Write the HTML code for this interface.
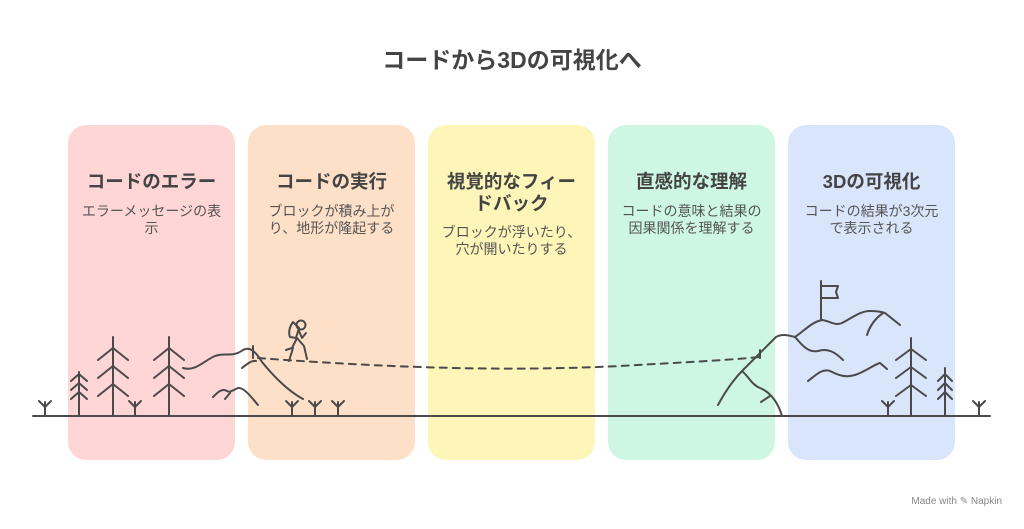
<!DOCTYPE html>
<html><head><meta charset="utf-8"><style>
body{margin:0;width:1024px;height:529px;background:#fff;position:relative;overflow:hidden;font-family:"Liberation Sans","Noto Sans CJK JP",sans-serif;}
.card{position:absolute;top:125px;width:167px;height:335px;border-radius:18px;}
.t{position:absolute;width:167px;text-align:center;font-weight:bold;font-size:18.5px;color:#444;line-height:22px;}
.d{position:absolute;width:167px;text-align:center;font-size:14px;color:#555;line-height:17px;}
h1{position:absolute;top:45px;left:0;width:1024px;text-align:center;margin:0;font-size:23px;color:#444;font-weight:bold;line-height:30px;}
svg{position:absolute;left:0;top:0;}
</style></head><body>
<h1>コードから3Dの可視化へ</h1>
<div class="card" style="left:68px;background:#fed6d6"></div>
<div class="card" style="left:248px;background:#fee0c8"></div>
<div class="card" style="left:428px;background:#fef5b9"></div>
<div class="card" style="left:608px;background:#cdf7e2"></div>
<div class="card" style="left:788px;background:#d9e5fb"></div>

<div class="t" style="left:68px;top:171px">コードのエラー</div>
<div class="d" style="left:68px;top:203px">エラーメッセージの表<br>示</div>
<div class="t" style="left:248px;top:171px">コードの実行</div>
<div class="d" style="left:248px;top:203px">ブロックが積み上が<br>り、地形が隆起する</div>
<div class="t" style="left:428px;top:171px">視覚的なフィー<br>ドバック</div>
<div class="d" style="left:428px;top:224px">ブロックが浮いたり、<br>穴が開いたりする</div>
<div class="t" style="left:608px;top:171px">直感的な理解</div>
<div class="d" style="left:608px;top:203px">コードの意味と結果の<br>因果関係を理解する</div>
<div class="t" style="left:788px;top:171px">3Dの可視化</div>
<div class="d" style="left:788px;top:203px">コードの結果が3次元<br>で表示される</div>

<svg width="1024" height="529" fill="none" stroke="#4a4a4a" stroke-width="2" stroke-linecap="round" stroke-linejoin="round">
<line x1="33" y1="416" x2="990" y2="416"/>
<g>
<path d="M45 416V402M39 401L45 407L51 401"/>
<path d="M135 416V402M129 401L135 407L141 401"/>
<path d="M292 416V402M286 401L292 407L298 401"/>
<path d="M315 416V402M309 401L315 407L321 401"/>
<path d="M338 416V402M332 401L338 407L344 401"/>
<path d="M888 416V402M882 401L888 407L894 401"/>
<path d="M979 416V402M973 401L979 407L985 401"/>
</g>
<path d="M79 416V372M71 381L79 374L87 381M71 390L79 383L87 390M71 399L79 392L87 399"/>
<path d="M113 416V337M98 360L113 348L128 360M98 378L113 366L128 378M98 396L113 384L128 396"/>
<path d="M169 416V337M154 360L169 348L184 360M154 378L169 366L184 378M154 396L169 384L184 396"/>
<path d="M911 416V338M896 360L911 349L926 360M896 378L911 367L926 378M896 396L911 385L926 396"/>
<path d="M945 416V368M938 381L945 374L952 381M938 390L945 383L952 390M938 399L945 392L952 399"/>
<path d="M183 368C195 372 205 360 215 356C225 352 232 358 243 350C250 346 256 352 262 362C275 378 290 392 303 399"/>
<path d="M242 368C247 364 252 360 256 361"/>
<path d="M213 397C218 392 222 388 227 391C230 393 233 390 238 388C244 387 252 398 258 405"/>
<path d="M225 399L230 393"/>
<path d="M253 346V358"/>
<path d="M258 358C380 367 500 372 620 366C690 362 730 360 760 357" stroke-dasharray="7 6"/>
<circle cx="301" cy="325" r="4.5"/>
<path d="M293 322C290 326 288 332 290 337L296 338L299 328Z"/>
<path d="M299 331L302 338L306 333M297 338L292 348L286 350M297 338L304 346L307 359M293 348L289 361"/>
<path d="M760 350V358"/>
<path d="M718 405C725 392 733 380 743 370L776 337C783 333 790 336 795 337C805 330 812 322 822 320C830 321 835 326 842 323C852 318 860 311 870 311C876 311 882 312 885 313L900 325"/>
<path d="M867 335C870 325 876 318 883 313"/>
<path d="M821 320V281M821 286H838L836 292L838 298H821"/>
<path d="M743 372C748 376 752 385 760 388C770 392 778 402 782 416"/>
<path d="M761 402L770 396"/>
<path d="M795 337C802 345 808 353 818 351C828 348 835 352 843 360"/>
<path d="M808 381C815 376 822 368 830 371C838 375 845 378 855 375C865 372 875 364 880 363L887 369"/>
</svg>
<div style="position:absolute;right:22px;top:496px;font-size:10px;color:#888">Made with ✎ Napkin</div>
</body></html>
